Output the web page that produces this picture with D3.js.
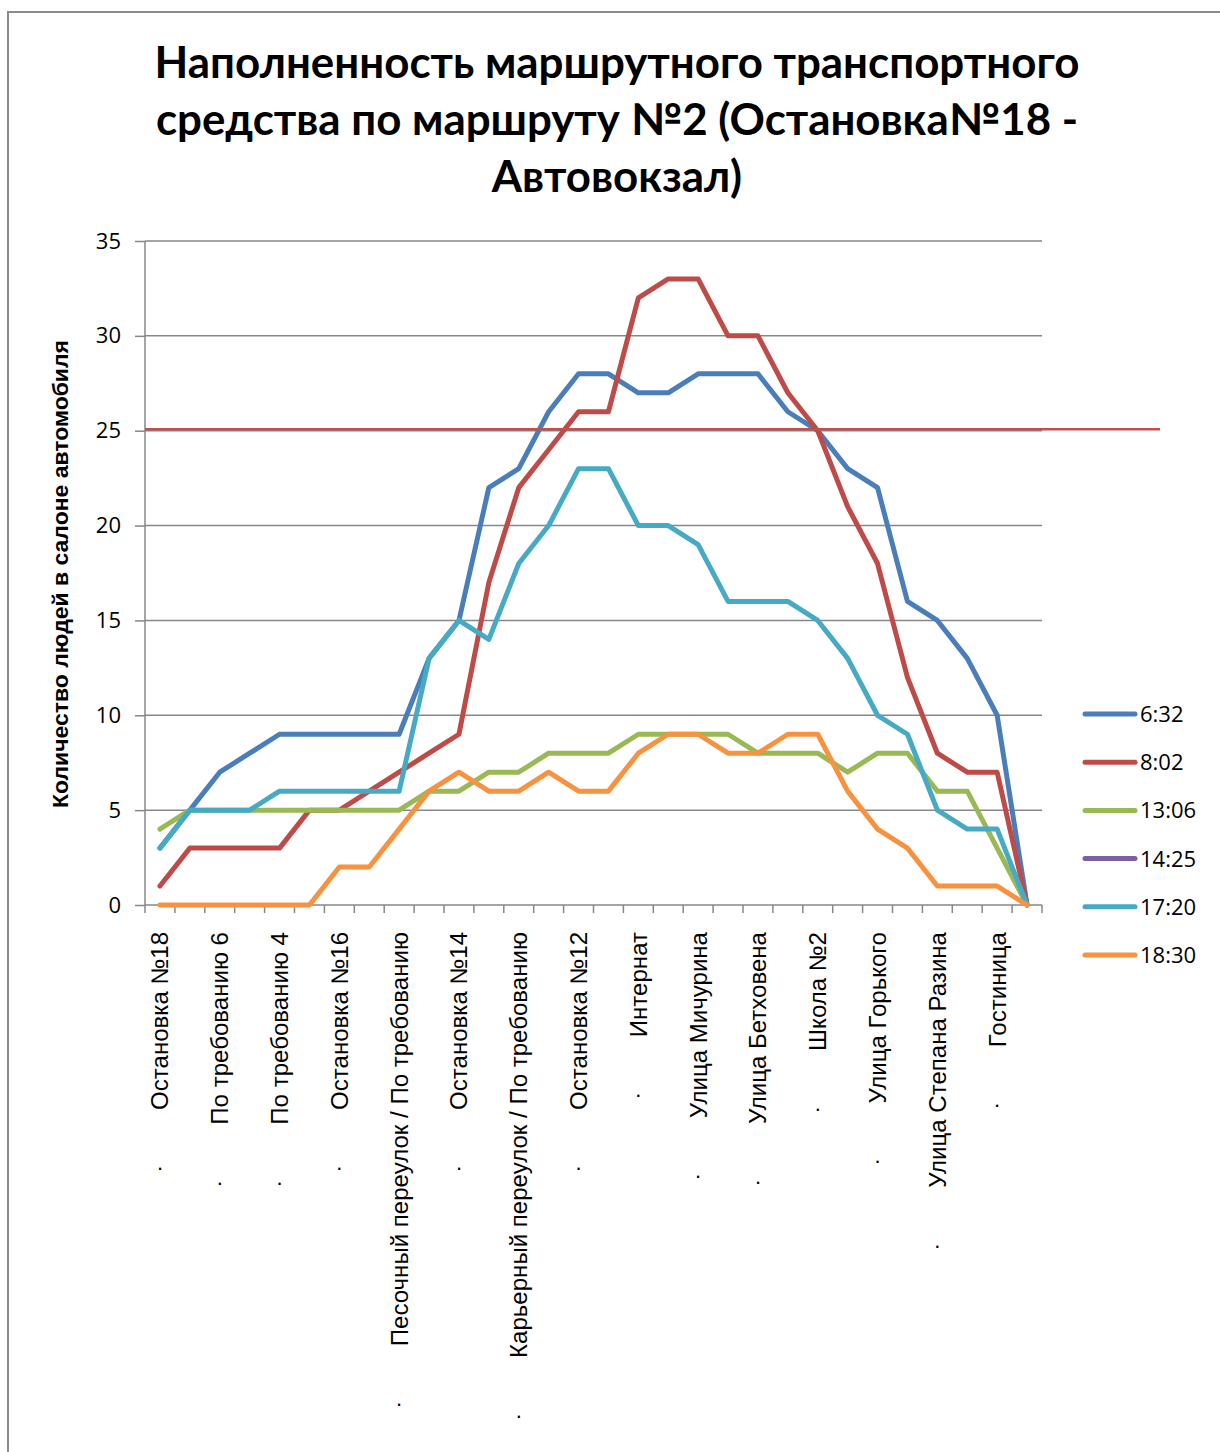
<!DOCTYPE html>
<html><head><meta charset="utf-8">
<script src="https://cdn.jsdelivr.net/npm/d3@7"></script>
<style>html,body{margin:0;padding:0;background:#fff;}svg{display:block;}</style>
</head><body>
<svg id="chart" width="1220" height="1452"></svg>
<script>
// ---- data ----
const titleLines = ["Наполненность маршрутного транспортного", "средства по маршруту №2 (Остановка№18 -", "Автовокзал)"];
const yAxisTitle = "Количество людей в салоне автомобиля";
const categories = ["Остановка №18","","По требованию 6","","По требованию 4","","Остановка №16","","Песочный переулок / По требованию","","Остановка №14","","Карьерный переулок / По требованию","","Остановка №12","","Интернат","","Улица Мичурина","","Улица Бетховена","","Школа №2","","Улица Горького","","Улица Степана Разина","","Гостиница",""];
const seriesNames = ["6:32","8:02","13:06","14:25","17:20","18:30"];
const s0632 = [3,5,7,8,9,9,9,9,9,13,15,22,23,26,28,28,27,27,28,28,28,26,25,23,22,16,15,13,10,0];
const s0802 = [1,3,3,3,3,5,5,6,7,8,9,17,22,24,26,26,32,33,33,30,30,27,25,21,18,12,8,7,7,0];
const s1306 = [4,5,5,5,5,5,5,5,5,6,6,7,7,8,8,8,9,9,9,9,8,8,8,7,8,8,6,6,3,0];
const s1425 = [];
const s1720 = [3,5,5,5,6,6,6,6,6,13,15,14,18,20,23,23,20,20,19,16,16,16,15,13,10,9,5,4,4,0];
const s1830 = [0,0,0,0,0,0,2,2,4,6,7,6,6,7,6,6,8,9,9,8,8,9,9,6,4,3,1,1,1,0];
const seriesValues = [s0632, s0802, s1306, s1425, s1720, s1830];
const yTicks = [0,5,10,15,20,25,30,35];
const limitValue = 25;

// ---- styles ----
const colors = ["#4A7EBB","#BE4B48","#98B954","#7D60A0","#46AAC5","#F69240"];
const gridColor = "#878787";
const svg = d3.select("#chart");

// outer border
svg.append("rect").attr("x",8).attr("y",12).attr("width",1240).attr("height",1480)
  .attr("fill","none").attr("stroke","#8c8c8c").attr("stroke-width",2);

const plot = {left:145, right:1042, top:241, bottom:905};
const x = d3.scaleBand().domain(categories.map((c,i)=>i)).range([plot.left, plot.right]).padding(0);
const xc = i => x(i) + x.bandwidth()/2;
const y = d3.scaleLinear().domain([0,35]).range([plot.bottom, plot.top]);

// title
const title = svg.append("g").attr("font-family","Lato, 'Open Sans', sans-serif").attr("font-weight","bold").attr("fill","#000");
const tl = title.selectAll("text").data(titleLines).join("text")
  .attr("x",617).attr("y",(d,i)=>78 + i*57).attr("text-anchor","middle").attr("font-size",46).text(d=>d);
{
  const w = tl.nodes()[0].getComputedTextLength();
  const fs = 46 * 925 / w;
  tl.attr("font-size", fs);
}

// gridlines
svg.append("g").selectAll("line").data(yTicks.filter(v=>v>0)).join("line")
  .attr("x1",plot.left).attr("x2",plot.right).attr("y1",d=>y(d)).attr("y2",d=>y(d))
  .attr("stroke",gridColor).attr("stroke-width",1.5);

// y axis
const yAxis = svg.append("g").attr("transform",`translate(${plot.left},0)`)
  .call(d3.axisLeft(y).tickValues(yTicks).tickSize(10).tickPadding(14).tickFormat(d3.format("d")));
yAxis.select(".domain").remove();
yAxis.selectAll(".tick line").attr("stroke",gridColor).attr("stroke-width",1.5);
yAxis.selectAll(".tick text").attr("font-family","'Open Sans', sans-serif").attr("font-size",22).attr("fill","#000");
svg.append("line").attr("x1",plot.left).attr("x2",plot.left).attr("y1",plot.top).attr("y2",plot.bottom)
  .attr("stroke",gridColor).attr("stroke-width",1.5);

// x axis line + ticks at category boundaries
svg.append("line").attr("x1",plot.left).attr("x2",plot.right).attr("y1",plot.bottom).attr("y2",plot.bottom)
  .attr("stroke",gridColor).attr("stroke-width",1.5);
const bounds = categories.map((c,i)=>x(i)).concat([x.range()[1]]);
svg.append("g").selectAll("line").data(bounds).join("line")
  .attr("x1",d=>d).attr("x2",d=>d).attr("y1",plot.bottom).attr("y2",plot.bottom+8)
  .attr("stroke",gridColor).attr("stroke-width",1.5);

// category labels
const labG = svg.append("g").attr("font-family","'Liberation Sans', Arial, sans-serif").attr("fill","#000");
const shown = categories.map((c,i)=>({c,i})).filter(d=>d.c!=="");
const labs = labG.selectAll("text.cat").data(shown).join("text").attr("class","cat")
  .attr("transform",d=>`translate(${xc(d.i)},932) rotate(-90)`)
  .attr("text-anchor","end").attr("dy","0.35em").attr("font-size",24).text(d=>d.c);
{
  const w = labs.nodes()[0].getComputedTextLength();
  labs.attr("font-size", 24*178/w);
}
labs.each(function(d){
  const L = this.getComputedTextLength();
  labG.append("text").attr("x",xc(d.i)).attr("y",932+L+60).attr("text-anchor","middle")
    .attr("font-size",22).text(".");
});

// y axis title
const yt = svg.append("text").attr("transform","translate(60,574) rotate(-90)")
  .attr("text-anchor","middle").attr("dy","0.35em")
  .attr("font-family","'Liberation Sans', Arial, sans-serif").attr("font-weight","bold")
  .attr("font-size",20).text(yAxisTitle);
{
  const w = yt.node().getComputedTextLength();
  yt.attr("font-size", 20*468/w);
}

// series
const line = d3.line().x((d,i)=>xc(i)).y(d=>y(d));
svg.append("g").selectAll("path").data(seriesValues).join("path")
  .attr("d",d=>d.length ? line(d) : null)
  .attr("fill","none").attr("stroke",(d,i)=>colors[i]).attr("stroke-width",5)
  .attr("stroke-linejoin","round").attr("stroke-linecap","round");

// limit line
svg.append("line").attr("x1",plot.left).attr("x2",1160).attr("y1",y(limitValue)-1.5).attr("y2",y(limitValue)-1.5)
  .attr("stroke","#C0504D").attr("stroke-width",2.5);

// legend
const lg = svg.append("g").selectAll("g").data(seriesNames).join("g")
  .attr("transform",(d,i)=>`translate(1085,${714 + i*48.2})`);
lg.append("line").attr("x1",0).attr("x2",50).attr("stroke",(d,i)=>colors[i]).attr("stroke-width",5).attr("stroke-linecap","round");
lg.append("text").attr("x",55).attr("dy","0.36em").attr("font-family","'Open Sans', sans-serif")
  .attr("font-size",22).attr("fill","#000").text(d=>d);
</script>
</body></html>
